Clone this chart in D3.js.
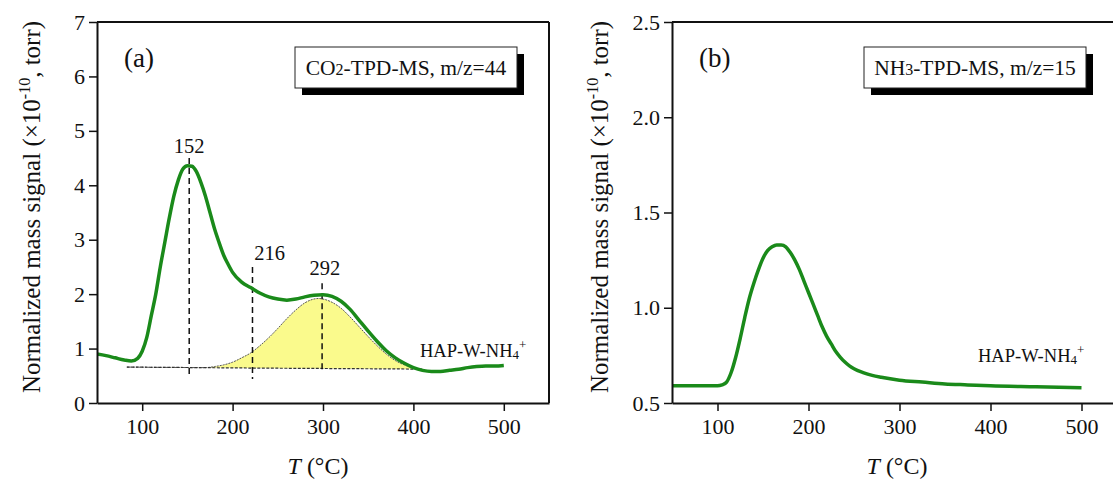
<!DOCTYPE html>
<html><head><meta charset="utf-8">
<script src="https://cdn.jsdelivr.net/npm/d3@7"></script>
<style>
body{margin:0;background:#fff;}
svg text{font-family:"Liberation Serif","Times New Roman",serif;fill:#111;}
</style></head>
<body><svg id="c" width="1113" height="495"></svg>
<script>
// ---- data ----
const co2T =   [50,60,70,80,88,95,100,105,110,115,120,125,130,135,140,145,150,155,160,165,170,175,180,185,190,195,200,210,220,230,240,250,260,270,280,290,300,310,320,330,340,350,360,370,380,390,400,410,420,430,440,450,460,470,480,490,500];
const co2Sig = [0.90,0.87,0.83,0.79,0.77,0.82,0.95,1.2,1.6,2.0,2.5,2.95,3.4,3.8,4.1,4.3,4.36,4.35,4.25,4.05,3.8,3.5,3.2,2.95,2.72,2.55,2.4,2.22,2.12,2.02,1.95,1.91,1.89,1.91,1.95,1.98,1.99,1.96,1.87,1.72,1.52,1.32,1.13,0.96,0.83,0.73,0.65,0.6,0.58,0.58,0.6,0.62,0.65,0.67,0.68,0.68,0.69];
const fitT =    [83,120,170,180,190,200,210,220,230,240,250,260,270,280,290,295,300,310,320,330,340,350,360,370,380,390,400,410];
const fitPeak = [0.66,0.655,0.65,0.67,0.70,0.75,0.83,0.92,1.05,1.2,1.37,1.55,1.71,1.84,1.91,1.92,1.91,1.85,1.74,1.58,1.4,1.22,1.05,0.9,0.78,0.70,0.65,0.62];
const fitBase = [0.66,0.655,0.65,0.648,0.646,0.645,0.644,0.642,0.641,0.64,0.639,0.638,0.637,0.636,0.635,0.635,0.634,0.633,0.632,0.631,0.63,0.629,0.628,0.627,0.626,0.625,0.623,0.62];
const peakT = [152,222,299];
const peakTop = [4.5,2.5,2.2];
const peakBot = [0.48,0.44,0.55];
const peakLabels = ["152","216","292"];
const peakLabelT = [152,241,302];
const peakLabelY = [4.6,2.62,2.35];

const nh3T =   [50,70,90,100,105,110,115,120,125,130,135,140,145,150,155,160,165,170,175,180,185,190,195,200,205,210,215,220,225,230,235,240,245,250,260,270,280,300,325,350,375,400,450,500];
const nh3Sig = [0.59,0.59,0.59,0.59,0.595,0.61,0.66,0.74,0.84,0.95,1.05,1.13,1.2,1.26,1.3,1.32,1.33,1.33,1.32,1.29,1.25,1.2,1.14,1.08,1.02,0.96,0.9,0.85,0.81,0.77,0.74,0.715,0.695,0.68,0.66,0.645,0.635,0.62,0.61,0.6,0.595,0.59,0.585,0.58];

const xTicks = [100,200,300,400,500];
const yTicksA = [0,1,2,3,4,5,6,7];
const yTicksB = [0.5,1.0,1.5,2.0,2.5];

const svg = d3.select("#c");
const green = "#1a8a1a";

function panel(opt){
  const g = svg.append("g");
  const x = d3.scaleLinear().domain([50,550]).range([opt.left,opt.right]);
  const y = d3.scaleLinear().domain(opt.ydom).range([403,22]);
  const clipId = "clip"+opt.id;
  svg.append("clipPath").attr("id",clipId).append("rect")
    .attr("x",opt.left).attr("y",22).attr("width",opt.right-opt.left).attr("height",381);
  const plot = g.append("g").attr("clip-path",`url(#${clipId})`);
  opt.draw && opt.draw(plot,x,y);
  plot.append("path").datum(opt.T.map((t,i)=>[t,opt.S[i]]))
    .attr("fill","none").attr("stroke",green).attr("stroke-width",3.5).attr("stroke-linejoin","round")
    .attr("d",d3.line().x(d=>x(d[0])).y(d=>y(d[1])).curve(d3.curveMonotoneX));
  // axes
  const xa = g.append("g").attr("transform","translate(0,403)")
    .call(d3.axisBottom(x).tickValues(xTicks).tickSize(8).tickSizeOuter(0).tickPadding(7));
  const ya = g.append("g").attr("transform",`translate(${opt.left},0)`)
    .call(d3.axisLeft(y).tickValues(opt.yticks).tickSize(8).tickSizeOuter(0).tickPadding(4).tickFormat(opt.fmt));
  [xa,ya].forEach(a=>{
    a.select(".domain").attr("stroke","#111").attr("stroke-width",2);
    a.selectAll(".tick line").attr("stroke","#111").attr("stroke-width",1.5);
    a.selectAll(".tick text").attr("font-size",22).attr("fill","#111")
      .style("font-family","'Liberation Serif','Times New Roman',serif");
  });
  // top/right frame
  g.append("line").attr("x1",opt.left).attr("x2",opt.right).attr("y1",22).attr("y2",22).attr("stroke","#111").attr("stroke-width",2);
  g.append("line").attr("x1",opt.right).attr("x2",opt.right).attr("y1",22).attr("y2",403).attr("stroke","#111").attr("stroke-width",2);
  // axis titles
  const xt = g.append("text").attr("x",opt.xtitleX).attr("y",474)
    .attr("text-anchor","middle").attr("font-size",24);
  xt.append("tspan").attr("font-style","italic").text("T");
  xt.append("tspan").text(" (°C)");
  const yt = g.append("text").attr("transform",`translate(${opt.ytitleX},207) rotate(-90)`)
    .attr("text-anchor","middle").attr("font-size",25);
  yt.append("tspan").text("Normalized mass signal (×10");
  yt.append("tspan").attr("font-size",16).attr("dy",-10).text("-10");
  yt.append("tspan").attr("dy",10).text(", torr)");
  // panel letter
  g.append("text").attr("x",opt.left+27).attr("y",67).attr("font-size",27).text(opt.letter);
  // boxed title
  const bx = opt.boxX, by=47, bw=222, bh=41;
  g.append("rect").attr("x",bx+7).attr("y",by+7).attr("width",bw).attr("height",bh).attr("fill","#000");
  g.append("rect").attr("x",bx).attr("y",by).attr("width",bw).attr("height",bh).attr("fill","#fff").attr("stroke","#222").attr("stroke-width",1);
  const bt = g.append("text").attr("x",bx+bw/2).attr("y",by+28).attr("text-anchor","middle").attr("font-size",21.5);
  bt.append("tspan").text(opt.gas[0]);
  bt.append("tspan").attr("font-size",16).text(opt.gas[1]);
  bt.append("tspan").text(opt.gas[2]);
  // sample label
  const sl = g.append("text").attr("x",opt.sampleX).attr("y",opt.sampleY).attr("font-size",18.5);
  sl.append("tspan").text("HAP-W-NH");
  sl.append("tspan").attr("font-size",13).attr("dy",2).text("4");
  sl.append("tspan").attr("font-size",13).attr("dy",-10).text("+");
}

panel({id:"a",left:97,right:549,ydom:[0,7],yticks:yTicksA,fmt:d3.format("d"),T:co2T,S:co2Sig,
  letter:"(a)",boxX:295,gas:["CO","2","-TPD-MS, m/z=44"],sampleX:420,sampleY:357,ytitleX:40,xtitleX:318,
  draw:(p,x,y)=>{
    const pts = fitT.map((t,i)=>({t,top:fitPeak[i],b:fitBase[i]}));
    p.append("path").datum(pts).attr("fill","#fafa8c").attr("stroke","none")
      .attr("d",d3.area().x(d=>x(d.t)).y0(d=>y(d.b)).y1(d=>y(d.top)).curve(d3.curveMonotoneX));
    p.append("path").datum(pts).attr("fill","none").attr("stroke","#555").attr("stroke-width",1).attr("stroke-dasharray","2,1")
      .attr("d",d3.line().x(d=>x(d.t)).y(d=>y(d.top)).curve(d3.curveMonotoneX));
    p.append("path").datum(pts).attr("fill","none").attr("stroke","#333").attr("stroke-width",1.2).attr("stroke-dasharray","3,1.5")
      .attr("d",d3.line().x(d=>x(d.t)).y(d=>y(d.b)));
    peakT.forEach((t,i)=>{
      p.append("line").attr("x1",x(t)).attr("x2",x(t)).attr("y1",y(peakTop[i])).attr("y2",y(peakBot[i]))
        .attr("stroke","#111").attr("stroke-width",1.5).attr("stroke-dasharray","6,4");
      p.append("text").attr("x",x(peakLabelT[i])).attr("y",y(peakLabelY[i])).attr("text-anchor","middle")
        .attr("font-size",20.5).text(peakLabels[i]);
    });
  }});
panel({id:"b",left:672,right:1127,ydom:[0.5,2.5],yticks:yTicksB,fmt:d3.format(".1f"),T:nh3T,S:nh3Sig,
  letter:"(b)",boxX:864,gas:["NH","3","-TPD-MS, m/z=15"],sampleX:978,sampleY:362,ytitleX:608,xtitleX:897});
</script></body></html>
